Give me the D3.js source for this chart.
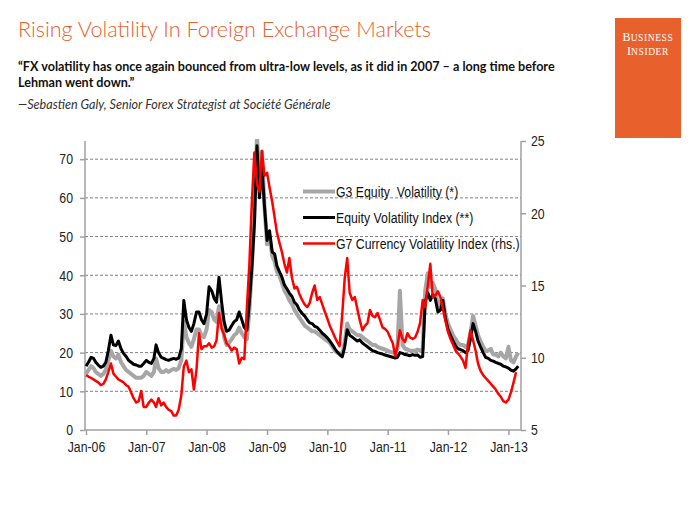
<!DOCTYPE html>
<html>
<head>
<meta charset="utf-8">
<script src="https://cdn.jsdelivr.net/npm/d3@7"></script>
<style>
  html, body { margin: 0; padding: 0; background: #fff; }
  svg { display: block; }
</style>
</head>
<body>
<div id="chart"></div>
<script>
// ---------- DATA ----------
const dates = [
  "2006-01-01","2006-01-16","2006-02-01","2006-02-16","2006-03-01","2006-03-16","2006-04-01","2006-04-16","2006-05-01","2006-05-16","2006-06-01","2006-06-16",
  "2006-07-01","2006-07-16","2006-08-01","2006-08-16","2006-09-01","2006-09-16","2006-10-01","2006-10-16","2006-11-01","2006-11-16","2006-12-01","2006-12-16",
  "2007-01-01","2007-01-16","2007-02-01","2007-02-16","2007-03-01","2007-03-16","2007-04-01","2007-04-16","2007-05-01","2007-05-16","2007-06-01","2007-06-16",
  "2007-07-01","2007-07-16","2007-08-01","2007-08-16","2007-09-01","2007-09-16","2007-10-01","2007-10-16","2007-11-01","2007-11-16","2007-12-01","2007-12-16",
  "2008-01-01","2008-01-16","2008-02-01","2008-02-16","2008-03-01","2008-03-16","2008-04-01","2008-04-16","2008-05-01","2008-05-16","2008-06-01","2008-06-16",
  "2008-07-01","2008-07-16","2008-08-01","2008-08-16","2008-09-01","2008-09-16","2008-10-01","2008-10-16","2008-11-01","2008-11-16","2008-12-01","2008-12-16",
  "2009-01-01","2009-01-16","2009-02-01","2009-02-16","2009-03-01","2009-03-16","2009-04-01","2009-04-16","2009-05-01","2009-05-16","2009-06-01","2009-06-16",
  "2009-07-01","2009-07-16","2009-08-01","2009-08-16","2009-09-01","2009-09-16","2009-10-01","2009-10-16","2009-11-01","2009-11-16","2009-12-01","2009-12-16",
  "2010-01-01","2010-01-16","2010-02-01","2010-02-16","2010-03-01","2010-03-16","2010-04-01","2010-04-16","2010-05-01","2010-05-16","2010-06-01","2010-06-16",
  "2010-07-01","2010-07-16","2010-08-01","2010-08-16","2010-09-01","2010-09-16","2010-10-01","2010-10-16","2010-11-01","2010-11-16","2010-12-01","2010-12-16",
  "2011-01-01","2011-01-16","2011-02-01","2011-02-16","2011-03-01","2011-03-16","2011-04-01","2011-04-16","2011-05-01","2011-05-16","2011-06-01","2011-06-16",
  "2011-07-01","2011-07-16","2011-08-01","2011-08-16","2011-09-01","2011-09-16","2011-10-01","2011-10-16","2011-11-01","2011-11-16","2011-12-01","2011-12-16",
  "2012-01-01","2012-01-16","2012-02-01","2012-02-16","2012-03-01","2012-03-16","2012-04-01","2012-04-16","2012-05-01","2012-05-16","2012-06-01","2012-06-16",
  "2012-07-01","2012-07-16","2012-08-01","2012-08-16","2012-09-01","2012-09-16","2012-10-01","2012-10-16","2012-11-01","2012-11-16","2012-12-01","2012-12-16",
  "2013-01-01","2013-01-16","2013-02-01","2013-02-16","2013-03-01"
];

// G3 Equity Volatility (*) — left axis
const g3Equity = [
  14.5,15.5,16.5,16.0,15.0,14.5,14.0,14.5,15.5,18.0,20.5,19.0,18.5,19.5,17.5,16.5,15.5,15.0,14.5,14.0,13.5,13.5,13.5,14.0,
  15.0,14.5,14.0,15.0,18.5,16.0,15.0,15.0,15.5,15.0,15.5,15.8,15.5,16.0,18.0,28.0,24.0,22.5,21.5,23.5,26.0,26.0,24.5,24.0,
  26.0,31.0,30.5,28.5,28.0,32.0,28.0,24.0,22.0,22.5,23.5,24.5,25.0,26.5,25.0,24.0,23.5,31.0,42.0,55.0,76.0,64.0,72.0,58.0,
  48.0,50.0,45.0,43.5,41.0,40.0,38.0,36.0,35.0,33.5,32.5,31.0,30.0,29.0,28.0,27.0,26.5,26.0,25.5,25.5,25.0,24.5,24.0,23.5,
  23.0,22.5,21.5,20.5,20.0,19.8,19.5,22.5,27.5,26.0,25.5,25.0,24.5,24.5,24.0,23.5,23.0,22.5,22.0,22.0,21.5,21.2,21.0,20.8,
  20.5,20.2,20.0,20.0,21.0,36.0,22.0,21.0,20.8,20.5,20.5,20.5,20.8,20.5,21.0,36.0,40.5,37.0,38.0,36.5,32.0,33.0,34.0,30.0,
  27.5,26.0,24.5,23.5,22.5,22.0,22.0,21.5,22.0,25.0,29.5,27.0,24.5,23.0,21.5,20.5,20.5,21.0,19.5,19.5,19.0,20.0,19.0,18.5,
  21.5,18.0,17.5,19.0,20.0
];

// Equity Volatility Index (**) — left axis
const equityIndex = [
  16.5,17.5,18.8,18.5,17.5,16.8,16.2,16.5,17.5,20.5,24.5,22.0,21.8,23.0,21.0,19.8,19.0,18.0,17.5,17.0,16.8,16.5,16.5,17.2,
  18.0,17.5,17.2,18.5,22.0,20.0,18.8,18.5,18.2,18.0,18.3,18.5,18.3,18.6,21.0,33.5,28.5,26.5,25.5,27.5,30.5,30.5,28.5,27.5,
  30.0,37.0,36.0,34.0,33.0,39.5,33.0,28.0,25.5,25.8,27.0,28.0,28.5,30.5,28.5,26.5,25.8,33.0,42.0,53.0,73.5,60.0,68.0,58.0,
  49.0,51.5,46.0,45.5,42.5,41.0,39.5,37.5,36.5,35.4,34.5,33.0,32.3,31.0,30.2,29.5,28.5,27.7,27.5,26.8,26.5,25.8,25.0,24.5,
  23.8,23.0,22.0,21.0,20.2,19.5,18.9,21.5,25.9,24.5,24.0,23.5,23.0,23.3,22.5,22.0,21.5,21.0,20.5,20.3,20.0,19.8,19.6,19.4,
  19.2,19.0,18.8,18.6,18.8,20.0,19.8,19.5,19.4,19.2,19.5,19.3,19.4,18.8,19.0,33.0,35.5,33.5,35.0,34.0,30.5,31.0,33.5,29.0,
  26.0,24.5,23.0,21.8,21.0,20.8,20.5,20.0,20.5,23.5,27.5,25.5,23.0,21.5,20.0,18.8,18.5,18.0,17.8,17.5,17.2,17.0,16.5,16.3,
  16.0,15.5,15.2,15.8,16.5
];

// G7 Currency Volatility Index (rhs.) — right axis
const g7Currency = [
  8.8,8.7,8.6,8.5,8.4,8.3,8.1,8.2,8.5,9.0,9.6,8.9,8.7,8.5,8.4,8.3,8.1,8.0,7.6,7.2,6.9,7.0,7.7,6.6,
  6.6,6.9,7.1,6.9,6.6,7.2,6.7,6.9,6.6,6.4,6.3,6.0,6.0,6.4,7.4,9.4,9.8,9.0,9.2,7.8,9.2,11.7,10.6,10.8,
  10.8,11.0,10.7,10.8,11.2,13.1,12.0,11.6,11.0,10.8,10.5,10.7,10.6,9.6,10.0,9.9,13.5,16.5,20.8,24.2,22.0,21.5,24.3,
  22.6,22.8,21.8,20.8,19.7,18.7,18.0,17.3,16.5,15.9,16.9,15.5,14.8,14.9,14.4,14.0,13.7,13.5,13.8,14.5,15.0,14.0,14.2,13.7,
  13.2,12.7,12.2,11.8,11.4,11.1,10.8,13.0,15.5,16.9,14.5,14.0,14.2,13.4,12.6,11.9,12.2,12.4,13.3,12.9,12.8,13.1,12.6,12.1,
  12.0,11.8,11.4,11.0,10.1,10.8,11.9,11.3,11.1,11.7,11.4,11.3,11.4,11.8,12.4,14.0,13.5,15.0,16.5,14.2,14.3,14.6,14.2,13.4,
  12.6,11.8,11.3,10.9,10.5,10.3,10.1,9.8,9.3,10.9,11.9,11.2,10.5,9.6,9.1,8.8,8.6,8.4,8.2,8.0,7.8,7.5,7.3,7.0,
  6.9,7.1,7.6,8.3,9.0
];

const xTickDates  = ["2006-01-01","2007-01-01","2008-01-01","2009-01-01","2010-01-01","2011-01-01","2012-01-01","2013-01-01"];
const xTickLabels = ["Jan-06","Jan-07","Jan-08","Jan-09","Jan-10","Jan-11","Jan-12","Jan-13"];
const leftTicks  = [0,10,20,30,40,50,60,70];
const rightTicks = [5,10,15,20,25];
const seriesNames = ["G3 Equity  Volatility (*)","Equity Volatility Index (**)","G7 Currency Volatility Index (rhs.)"];
const seriesColors = ["#a6a6a6","#000000","#ff0000"];

const titleText = "Rising Volatility In Foreign Exchange Markets";
const quoteLines = ["\u201cFX volatility has once again bounced from ultra-low levels, as it did in 2007 \u2013 a long time before",
                    "Lehman went down.\u201d"];
const attribution = "\u2014Sebastien Galy, Senior Forex Strategist at Soci\u00e9t\u00e9 G\u00e9n\u00e9rale";

// ---------- LAYOUT ----------
const W = 700, H = 525;
const plot = {left: 85, right: 521, top: 141, bottom: 430};
const parse = d3.timeParse("%Y-%m-%d");
const sans = "'Liberation Sans',Arial,sans-serif";
const SX = 0.82; // horizontal condensing (Arial Narrow look)

const svg = d3.select("#chart").append("svg").attr("width", W).attr("height", H);

// Header
svg.append("text").attr("x", 18).attr("y", 37)
  .attr("font-family", "Lato, 'Open Sans', sans-serif").attr("font-weight", 300)
  .attr("font-size", 21.6).attr("fill", "#E8602C").text(titleText);

quoteLines.forEach((t, i) => {
  svg.append("text").attr("x", 18).attr("y", 71 + i * 16)
    .attr("font-family", "Lato, 'Open Sans', sans-serif").attr("font-weight", 700)
    .attr("font-size", 12.6).attr("fill", "#111").text(t);
});
svg.append("text").attr("x", 18).attr("y", 109)
  .attr("font-family", "Lato, 'Open Sans', sans-serif").attr("font-style", "italic")
  .attr("font-size", 12.6).attr("fill", "#333").text(attribution);

// Logo
svg.append("rect").attr("x", 615).attr("y", 18).attr("width", 66).attr("height", 120).attr("fill", "#E8612C");
[["B","USINESS",41],["I","NSIDER",55]].forEach(([a,b,y]) => {
  const t = svg.append("text").attr("x", 648).attr("y", y).attr("text-anchor", "middle")
    .attr("font-family", "'Liberation Serif','DejaVu Serif',serif").attr("fill", "#fff");
  t.append("tspan").attr("font-size", 12).text(a);
  t.append("tspan").attr("font-size", 9.5).attr("letter-spacing", 0.6).text(b);
});

// Scales
const x = d3.scaleTime().domain([parse("2006-01-01"), parse("2013-03-18")]).range([plot.left + 1, plot.right]);
const yL = d3.scaleLinear().domain([0, 74.7]).range([plot.bottom, plot.top]);
const yR = d3.scaleLinear().domain([5, 25]).range([plot.bottom, plot.top]);

// Grid
svg.append("g").selectAll("line").data(leftTicks.filter(d => d > 0)).join("line")
  .attr("x1", plot.left).attr("x2", plot.right)
  .attr("y1", d => yL(d)).attr("y2", d => yL(d))
  .attr("stroke", "#7f7f7f").attr("stroke-width", 1).attr("stroke-dasharray", "3,2");

// Axes
const axisColor = "#a0a0a0";
const gL = svg.append("g").attr("transform", `translate(${plot.left},0)`)
  .call(d3.axisLeft(yL).tickValues(leftTicks).tickSize(5).tickPadding(7));
const gR = svg.append("g").attr("transform", `translate(${plot.right},0)`)
  .call(d3.axisRight(yR).tickValues(rightTicks).tickSize(5).tickPadding(5));
const gX = svg.append("g").attr("transform", `translate(0,${plot.bottom})`)
  .call(d3.axisBottom(x).tickValues(xTickDates.map(parse)).tickFormat((d, i) => xTickLabels[i]).tickSize(5).tickPadding(6));
[gL, gR, gX].forEach(g => {
  g.select(".domain").attr("stroke", axisColor).attr("stroke-width", 1.5);
  g.selectAll(".tick line").attr("stroke", axisColor).attr("stroke-width", 1.5);
  g.selectAll(".tick text").attr("font-family", sans).attr("font-size", 15).attr("fill", "#222")
    .each(function() {
      const t = d3.select(this);
      const xv = +t.attr("x") || 0;
      t.attr("x", xv / SX).attr("transform", `scale(${SX},1)`);
    });
});
gX.select(".domain").attr("d", `M${plot.left},0H${plot.right}`);
gL.select(".domain").attr("d", `M0,${plot.bottom}V${plot.top}`);
gR.select(".domain").attr("d", `M0,${plot.bottom}V${plot.top}`);

// Lines
svg.append("clipPath").attr("id", "clip").append("rect")
  .attr("x", plot.left).attr("y", plot.top - 2).attr("width", plot.right - plot.left).attr("height", plot.bottom - plot.top + 2);
const pts = (vals) => dates.map((d, i) => ({date: parse(d), v: vals[i]}));
const lineL = d3.line().x(d => x(d.date)).y(d => yL(d.v));
const lineR = d3.line().x(d => x(d.date)).y(d => yR(d.v));
const lg = svg.append("g").attr("clip-path", "url(#clip)");
const widths = [4, 3, 2.5];
lg.append("path").attr("d", lineL(pts(g3Equity))).attr("fill", "none").attr("stroke", seriesColors[0]).attr("stroke-width", widths[0]).attr("stroke-linejoin", "round");
lg.append("path").attr("d", lineL(pts(equityIndex))).attr("fill", "none").attr("stroke", seriesColors[1]).attr("stroke-width", widths[1]).attr("stroke-linejoin", "round");
lg.append("path").attr("d", lineR(pts(g7Currency))).attr("fill", "none").attr("stroke", seriesColors[2]).attr("stroke-width", widths[2]).attr("stroke-linejoin", "round");

// Legend
const leg = svg.append("g");
seriesNames.forEach((name, i) => {
  const y = 191.5 + i * 26;
  leg.append("line").attr("x1", 303).attr("x2", 335).attr("y1", y).attr("y2", y)
    .attr("stroke", seriesColors[i]).attr("stroke-width", widths[i]);
  leg.append("text").attr("transform", `translate(336,${y + 5}) scale(${SX},1)`)
    .attr("font-family", sans).attr("font-size", 15).attr("fill", "#111")
    .attr("xml:space", "preserve").text(name);
});
</script>
</body>
</html>
